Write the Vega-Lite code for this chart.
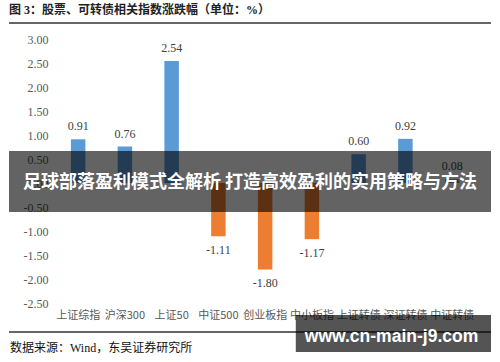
{
  "$schema": "https://vega.github.io/schema/vega-lite/v6.json",
  "width": 482,
  "height": 362,
  "autosize": "none",
  "padding": {"left": 9, "right": 9, "top": 0, "bottom": 0},
  "background": "white",
  "config": {
    "view": {"stroke": null},
    "locale": {"number": {"decimal": ".", "thousands": ",", "grouping": [3], "currency": ["", ""], "minus": "-"}}
  },
  "title": {
    "text": "图 3：股票、可转债相关指数涨跌幅（单位：%）",
    "anchor": "start",
    "frame": "group",
    "offset": -17,
    "baseline": "top",
    "font": "Liberation Serif, Noto Sans CJK SC",
    "fontSize": 12,
    "fontWeight": "bold",
    "color": "#222222"
  },
  "datasets": {
    "bars": [
      {"name": "上证综指", "value": 0.91},
      {"name": "沪深300", "value": 0.76},
      {"name": "上证50", "value": 2.54},
      {"name": "中证500", "value": -1.11},
      {"name": "创业板指", "value": -1.80},
      {"name": "中小板指", "value": -1.17},
      {"name": "上证转债", "value": 0.60},
      {"name": "深证转债", "value": 0.92},
      {"name": "中证转债", "value": 0.08}
    ],
    "banner": [{"top": 0.667, "bottom": -0.604, "mid": 0, "label": "足球部落盈利模式全解析 打造高效盈利的实用策略与方法"}],
    "rules": [{"y": 3.333}, {"y": -3.104}],
    "wm": [{"x1": 0.595, "x2": 1, "top": -2.75, "bottom": -3.52, "tx": 0.7936, "ty": -3.21, "label": "www.cn-main-j9.com"}],
    "source": [{"x": 0.002, "y": -3.4375, "label": "数据来源：Wind，东吴证券研究所"}]
  },
  "layer": [
    {
      "layer": [
        {
          "data": {"name": "bars"},
          "mark": {"type": "bar"},
          "encoding": {
            "x": {
              "field": "name", "type": "nominal", "sort": null,
              "scale": {"domain": ["上证综指", "沪深300", "上证50", "中证500", "创业板指", "中小板指", "上证转债", "深证转债", "中证转债"], "paddingInner": 0.69, "paddingOuter": 1.017, "align": 0.662},
              "axis": {"orient": "bottom", "offset": -47, "labelBaseline": "middle", "labelPadding": 0, "tickSize": 0, "ticks": false, "domain": false, "grid": false, "labelAngle": 0, "title": null, "labelFont": "Noto Sans CJK SC", "labelFontSize": 11, "labelColor": "#595959", "labelOverlap": false, "labelLimit": 0}
            },
            "y": {
              "field": "value", "type": "quantitative",
              "scale": {"domain": [-3.729, 3.8125], "nice": false, "zero": false},
              "axis": {"values": [-2.5, -2, -1.5, -1, -0.5, 0, 0.5, 1, 1.5, 2, 2.5, 3], "tickCount": 20, "format": ".2f", "offset": -39, "labelPadding": 0, "tickSize": 0, "ticks": false, "domain": false, "grid": false, "title": null, "labelFont": "Liberation Serif", "labelFontSize": 12, "labelColor": "#595959", "labelAlign": "right", "labelBaseline": "middle", "labelOverlap": false, "labelFlush": false}
            },
            "color": {"condition": {"test": "datum.value >= 0", "value": "#5B9BD5"}, "value": "#ED7D31"}
          }
        },
        {
          "data": {"name": "bars"},
          "transform": [{"filter": "datum.value >= 0"}],
          "mark": {"type": "text", "baseline": "middle", "dy": -13, "font": "Liberation Serif", "fontSize": 12, "color": "#404040"},
          "encoding": {
            "x": {"field": "name", "type": "nominal", "sort": null},
            "y": {"field": "value", "type": "quantitative"},
            "text": {"field": "value", "type": "quantitative", "format": ".2f"}
          }
        },
        {
          "data": {"name": "bars"},
          "transform": [{"filter": "datum.value < 0"}],
          "mark": {"type": "text", "baseline": "middle", "dy": 14, "font": "Liberation Serif", "fontSize": 12, "color": "#404040"},
          "encoding": {
            "x": {"field": "name", "type": "nominal", "sort": null},
            "y": {"field": "value", "type": "quantitative"},
            "text": {"field": "value", "type": "quantitative", "format": ".2f"}
          }
        },
        {
          "data": {"name": "rules"},
          "mark": {"type": "rule", "color": "#333333", "strokeWidth": 1.6},
          "encoding": {"y": {"field": "y", "type": "quantitative"}}
        },
        {
          "data": {"name": "banner"},
          "mark": {"type": "rect", "color": "#000000", "opacity": 0.61},
          "encoding": {
            "y": {"field": "top", "type": "quantitative"},
            "y2": {"field": "bottom"}
          }
        },
        {
          "data": {"name": "banner"},
          "mark": {"type": "text", "align": "center", "baseline": "middle", "font": "Noto Sans CJK SC", "fontSize": 18, "fontWeight": "bold", "color": "#ffffff"},
          "encoding": {
            "y": {"field": "mid", "type": "quantitative"},
            "text": {"field": "label"}
          }
        }
      ]
    },
    {
      "layer": [
        {
          "data": {"name": "source"},
          "mark": {"type": "text", "align": "left", "baseline": "middle", "font": "Liberation Serif, Noto Sans CJK SC", "fontSize": 12, "color": "#111111"},
          "encoding": {
            "x": {"field": "x", "type": "quantitative", "scale": {"domain": [0, 1], "nice": false, "zero": false}, "axis": null},
            "y": {"field": "y", "type": "quantitative", "scale": {"domain": [-3.729, 3.8125], "nice": false, "zero": false}, "axis": null},
            "text": {"field": "label"}
          }
        },
        {
          "data": {"name": "wm"},
          "mark": {"type": "rect", "color": "#000000", "opacity": 0.67},
          "encoding": {
            "x": {"field": "x1", "type": "quantitative", "axis": null},
            "x2": {"field": "x2"},
            "y": {"field": "top", "type": "quantitative", "axis": null},
            "y2": {"field": "bottom"}
          }
        },
        {
          "data": {"name": "wm"},
          "mark": {"type": "text", "align": "center", "baseline": "middle", "font": "Liberation Sans", "fontSize": 17.5, "fontWeight": "bold", "color": "#ffffff"},
          "encoding": {
            "x": {"field": "tx", "type": "quantitative", "axis": null},
            "y": {"field": "ty", "type": "quantitative", "axis": null},
            "text": {"field": "label"}
          }
        }
      ]
    }
  ],
  "resolve": {"scale": {"x": "independent", "y": "independent"}, "axis": {"x": "independent", "y": "independent"}}
}
